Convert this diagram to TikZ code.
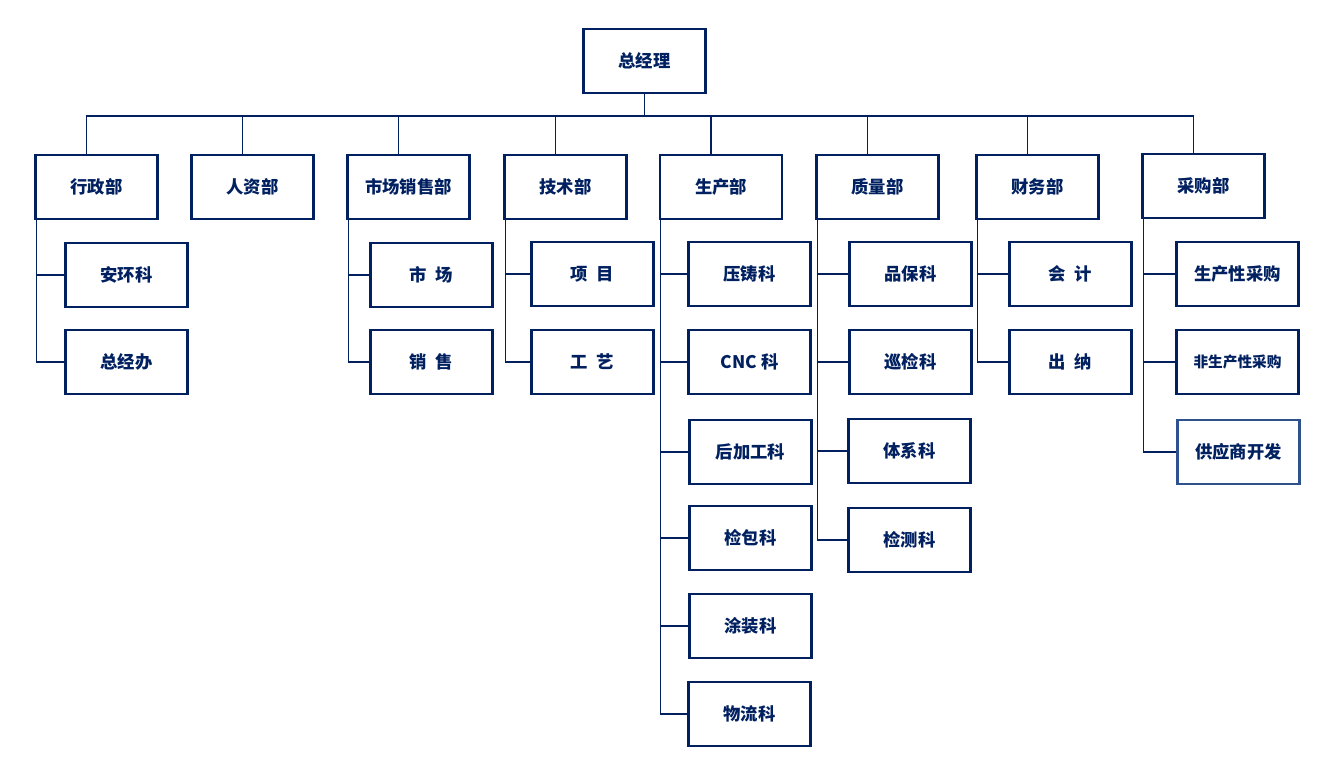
\documentclass[tikz,border=0pt]{standalone}
\usepackage{fontspec}
\setmainfont{Noto Sans CJK SC}
\definecolor{navy}{RGB}{0,32,96}
\definecolor{softnavy}{RGB}{47,82,143}

\begin{document}
\begin{tikzpicture}[x=.75pt,y=-.75pt,
    box/.style={draw=navy,line width=1.9pt,minimum width=91.5pt,minimum height=48pt,
      inner sep=0pt,text=navy,font=\bfseries\fontsize{13}{15}\selectfont},
    link/.style={navy,line width=.9pt}]
  \useasboundingbox (0,0) rectangle (1336,774);

  \node[box] (T) at (644.5,61) {总经理};

  % departments
  \node[box] (A) at (96.5,187) {行政部};
  \node[box] (B) at (252.5,187) {人资部};
  \node[box] (C) at (408.5,187) {市场销售部};
  \node[box] (D) at (565.5,187) {技术部};
  \node[box] (E) at (721,187) {生产部};
  \node[box] (F) at (877.5,187) {质量部};
  \node[box] (G) at (1037.5,187) {财务部};
  \node[box] (H) at (1203.5,186) {采购部};

  % sections
  \node[box] (A1) at (126.5,275) {安环科};
  \node[box] (A2) at (126.5,362) {总经办};
  \node[box] (C1) at (431.5,275) {市\hspace{.5em}场};
  \node[box] (C2) at (431.5,362) {销\hspace{.5em}售};
  \node[box] (D1) at (592.5,274) {项\hspace{.5em}目};
  \node[box] (D2) at (592.5,362) {工\hspace{.5em}艺};
  \node[box] (E1) at (749.5,274) {压铸科};
  \node[box] (E2) at (749.5,362) {CNC 科};
  \node[box] (E3) at (750.5,452) {后加工科};
  \node[box] (E4) at (750.5,538) {检包科};
  \node[box] (E5) at (750.5,626) {涂装科};
  \node[box] (E6) at (749.5,714) {物流科};
  \node[box] (F1) at (910.5,274) {品保科};
  \node[box] (F2) at (910.5,362) {巡检科};
  \node[box] (F3) at (909.5,451) {体系科};
  \node[box] (F4) at (909.5,540) {检测科};
  \node[box] (G1) at (1070.5,274) {会\hspace{.5em}计};
  \node[box] (G2) at (1070.5,362) {出\hspace{.5em}纳};
  \node[box] (H1) at (1237.5,274) {生产性采购};
  \node[box,font=\bfseries\fontsize{11}{13}\selectfont] (H2) at (1237.5,362) {非生产性采购};
  \node[box,draw=softnavy] (H3) at (1238.5,452) {供应商开发};

  \coordinate (bus) at (644.5,116);
  \draw[link] (T.south) -- (bus);
  \foreach \d in {A,B,C,D,E,F,G,H}
    \draw[link] (bus) -| ([xshift=-7.5pt]\d.north);

  \foreach \p/\c in {A/A1,A/A2,C/C1,C/C2,D/D1,D/D2,
      E/E1,E/E2,E/E3,E/E4,E/E5,E/E6,F/F1,F/F2,F/F3,F/F4,
      G/G1,G/G2,H/H1,H/H2,H/H3}
    \draw[link] ([xshift=1.5pt]\p.south west) |- (\c.west);
\end{tikzpicture}
\end{document}
